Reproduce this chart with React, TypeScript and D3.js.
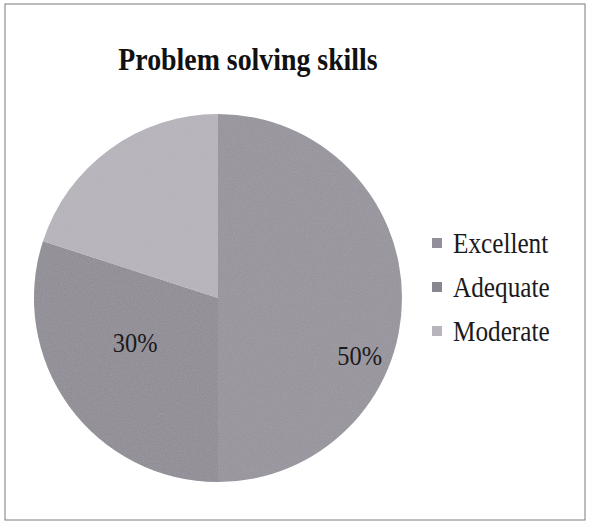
import React from "react";
import * as d3 from "d3";

const categories = ["Excellent", "Adequate", "Moderate"];
const values = [50, 30, 20];
const valueLabels = ["50%", "30%", ""];
const sliceColors = ["#938f9a", "#8a8691", "#b7b4bc"];
// label placement (angle in degrees clockwise from 12 o'clock, radius fraction)
const labelAngles = [112, 242, 324];
const labelRadii = [0.83, 0.51, 0.6];

const W = 592;
const H = 529;
const cx = 218;
const cy = 298;
const R = 184;
const SX = 0.87;

export default function App() {
  const pie = d3.pie<number>().sort(null).value((d) => d);
  const arcs = pie(values);
  const arc = d3.arc<d3.PieArcDatum<number>>().innerRadius(0).outerRadius(R);
  const rad = (deg: number) => (deg * Math.PI) / 180;

  return (
    <svg
      width={W}
      height={H}
      style={{ position: "absolute", left: 0, top: 0, background: "#fff" }}
      fontFamily="'Liberation Serif', 'Times New Roman', serif"
    >
      <defs>
        <filter id="grain" x="0" y="0" width="100%" height="100%">
          <feTurbulence type="fractalNoise" baseFrequency="0.9" numOctaves="2" seed="3" result="n" />
          <feColorMatrix
            in="n"
            type="matrix"
            values="0 0 0 0 0.5  0 0 0 0 0.5  0 0 0 0 0.5  0 0 0 0.35 0"
            result="nc"
          />
          <feComposite in="nc" in2="SourceGraphic" operator="in" result="nm" />
          <feMerge>
            <feMergeNode in="SourceGraphic" />
            <feMergeNode in="nm" />
          </feMerge>
        </filter>
      </defs>
      <rect x={5} y={4} width={580} height={516} fill="#fff" stroke="#7a7a7a" strokeWidth={1} />
      <g transform={`translate(248,70) scale(${SX},1)`}>
        <text x={0} y={0} textAnchor="middle" fontSize={32} fontWeight="bold" fill="#111">
          Problem solving skills
        </text>
      </g>
      <g transform={`translate(${cx},${cy})`} filter="url(#grain)">
        {arcs.map((a, i) => (
          <path key={categories[i]} d={arc(a) || ""} fill={sliceColors[i]} />
        ))}
      </g>
      <g transform={`translate(${cx},${cy})`}>
        {arcs.map((a, i) =>
          valueLabels[i] ? (
            <g
              key={"l" + i}
              transform={`translate(${Math.sin(rad(labelAngles[i])) * R * labelRadii[i]},${
                -Math.cos(rad(labelAngles[i])) * R * labelRadii[i]
              }) scale(${SX},1)`}
            >
              <text dy="0.35em" textAnchor="middle" fontSize={28} fill="#1a1a1a">
                {valueLabels[i]}
              </text>
            </g>
          ) : null
        )}
      </g>
      <g transform="translate(432,243)">
        {categories.map((c, i) => (
          <g key={c} transform={`translate(0,${i * 44})`}>
            <rect x={0} y={-5} width={10} height={10} fill={sliceColors[i]} />
            <g transform={`translate(21,0) scale(${SX},1)`}>
              <text x={0} y={0} dy="0.35em" fontSize={29} fill="#1a1a1a">
                {c}
              </text>
            </g>
          </g>
        ))}
      </g>
    </svg>
  );
}
